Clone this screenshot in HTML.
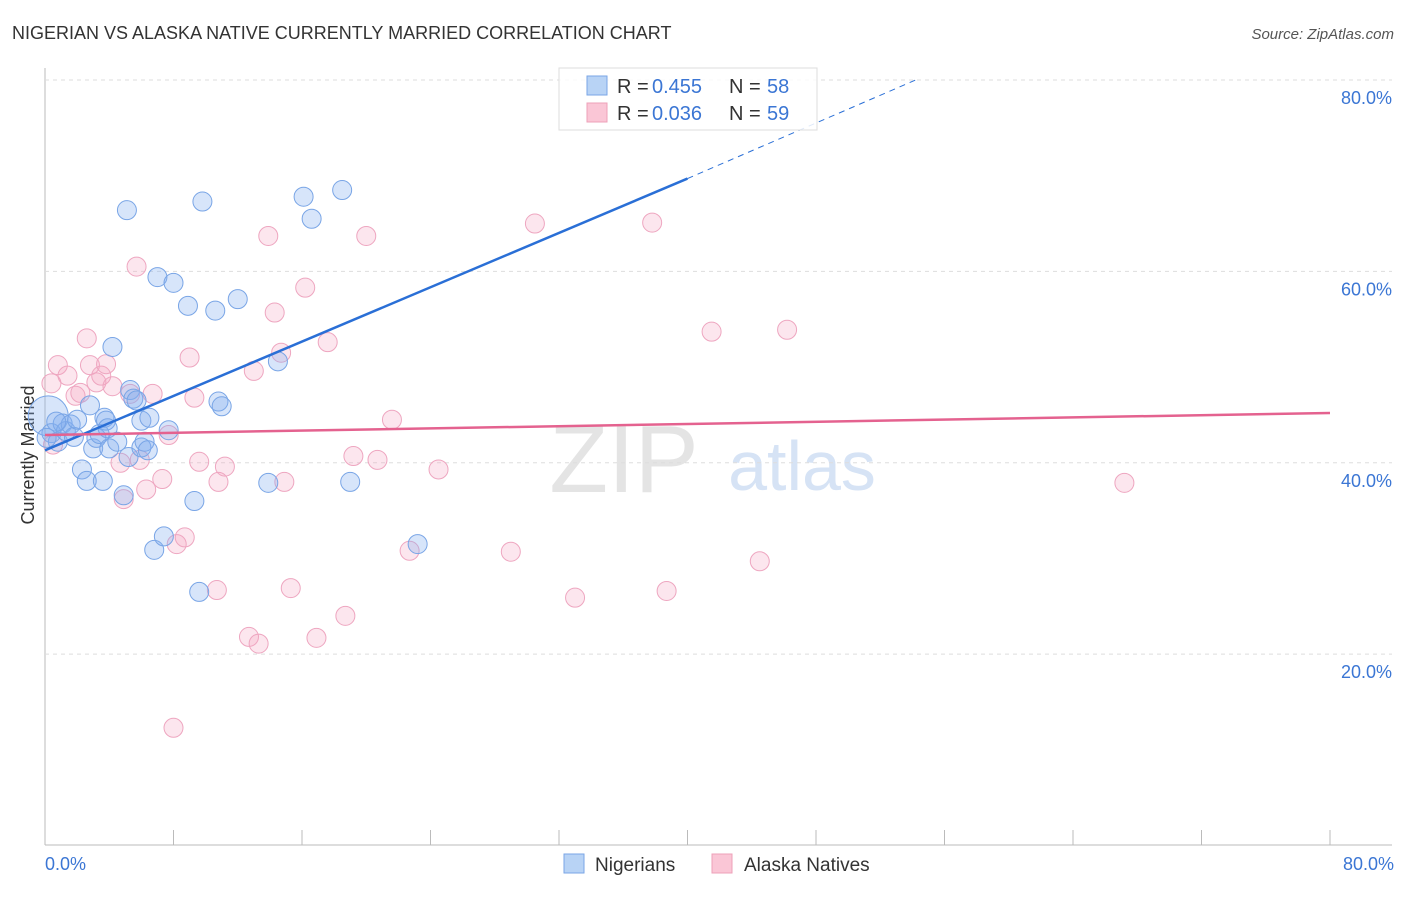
<!DOCTYPE html>
<html><head><meta charset="utf-8"><style>
body{margin:0;background:#fff;font-family:"Liberation Sans",sans-serif;}
svg text{font-family:"Liberation Sans",sans-serif;}
</style></head><body>
<svg id="c" width="1406" height="892" xmlns="http://www.w3.org/2000/svg">
<text x="12" y="39" font-size="18" fill="#333">NIGERIAN VS ALASKA NATIVE CURRENTLY MARRIED CORRELATION CHART</text>
<text x="1394" y="39" font-size="15" fill="#555" font-style="italic" text-anchor="end">Source: ZipAtlas.com</text>
<text x="624" y="492" font-size="96" fill="#e4e4e4" font-family="Liberation Serif" text-anchor="middle">ZIP</text>
<text x="802" y="490" font-size="70" fill="#d6e3f5" text-anchor="middle">atlas</text>
<text transform="translate(34,455) rotate(-90)" font-size="18" fill="#333" text-anchor="middle">Currently Married</text>
<g id="grid"></g><g id="pts"></g><g id="lines"></g>
<g>
<rect x="559" y="68" width="258" height="62" fill="#fff" fill-opacity="0.85" stroke="#ddd"/>
<rect x="587" y="76" width="20" height="19" fill="#b8d3f5" stroke="#7aa6e6"/>
<rect x="587" y="103" width="20" height="19" fill="#fac6d6" stroke="#eea0b8"/>
<text x="617" y="93" font-size="20" fill="#333">R =</text><text x="652" y="93" font-size="20" fill="#3b76d4">0.455</text>
<text x="729" y="93" font-size="20" fill="#333">N =</text><text x="767" y="93" font-size="20" fill="#3b76d4">58</text>
<text x="617" y="120" font-size="20" fill="#333">R =</text><text x="652" y="120" font-size="20" fill="#3b76d4">0.036</text>
<text x="729" y="120" font-size="20" fill="#333">N =</text><text x="767" y="120" font-size="20" fill="#3b76d4">59</text>
</g>
<g>
<rect x="564" y="854" width="20" height="19" fill="#b8d3f5" stroke="#7aa6e6"/>
<text x="595" y="871" font-size="19" fill="#333">Nigerians</text>
<rect x="712" y="854" width="20" height="19" fill="#fac6d6" stroke="#eea0b8"/>
<text x="744" y="871" font-size="19" fill="#333">Alaska Natives</text>
</g>
</svg>
<script>
const xTicks=[0,8,16,24,32,40,48,56,64,72,80];
const yTicks=[20,40,60,80];
const blueX=[0.2,0.4,0.8,1.1,1.3,1.6,1.8,2.0,2.3,2.6,2.8,3.0,3.2,3.4,3.6,3.7,3.8,3.9,4.0,4.2,4.9,5.1,5.3,5.2,5.5,5.7,6.0,6.0,6.2,6.4,6.5,6.8,7.0,7.4,7.7,8.0,8.9,9.3,9.6,9.8,10.6,10.8,11.0,12.0,13.9,14.5,16.1,16.6,18.5,19.0,23.2,0.7,4.5,0.1];
const blueY=[44.9,43.1,42.2,44.1,43.3,44.0,42.7,44.5,39.3,38.1,46.0,41.5,42.6,43.0,38.1,44.7,44.4,43.6,41.5,52.1,36.6,66.4,47.6,40.6,46.7,46.5,41.6,44.4,42.2,41.3,44.7,30.9,59.4,32.3,43.4,58.8,56.4,36.0,26.5,67.3,55.9,46.4,45.9,57.1,37.9,50.6,67.8,65.5,68.5,38.0,31.5,44.3,42.2,42.6];
const pinkX=[0.4,0.8,0.5,1.4,1.9,2.2,2.6,2.8,3.2,3.5,3.8,4.2,4.7,4.9,5.3,5.7,5.9,6.3,6.7,7.3,7.7,8.2,8.7,9.0,9.3,9.6,10.7,10.8,11.2,12.7,13.0,13.3,13.9,14.3,14.7,14.9,15.3,16.2,16.9,17.6,18.7,19.2,20.0,20.7,21.6,22.7,24.5,29.0,30.5,33.0,37.8,38.7,41.5,44.5,46.2,67.2,8.0];
const pinkY=[48.3,50.2,41.9,49.1,47.0,47.3,53.0,50.2,48.4,49.1,50.3,48.0,40.0,36.2,47.2,60.5,40.3,37.2,47.2,38.3,42.9,31.5,32.2,51.0,46.8,40.1,26.7,38.0,39.6,21.8,49.6,21.1,63.7,55.7,51.5,38.0,26.9,58.3,21.7,52.6,24.0,40.7,63.7,40.3,44.5,30.8,39.3,30.7,65.0,25.9,65.1,26.6,53.7,29.7,53.9,37.9,12.3];
const X0=45,X1=1330,Y0=845.5,Y80=80;
const sx=v=>X0+(X1-X0)*v/80, sy=v=>Y0+(Y80-Y0)*v/80;
const NS="http://www.w3.org/2000/svg";
function mk(t,a,p){const e=document.createElementNS(NS,t);for(const k in a)e.setAttribute(k,a[k]);p.appendChild(e);return e;}
const g=document.getElementById('grid');
mk('line',{x1:X0,y1:68,x2:X0,y2:845,stroke:'#bbb'},g);
mk('line',{x1:X0,y1:845,x2:1392,y2:845,stroke:'#bbb'},g);
yTicks.forEach(v=>{
 const l=mk('line',{x1:X0,y1:sy(v),x2:1392,y2:sy(v),stroke:'#ddd','stroke-dasharray':'4,4'},g);
 
 
 const t=mk('text',{x:1392,y:sy(v)+24,'font-size':18,fill:'#3b76d4','text-anchor':'end'},g);
 t.textContent=v.toFixed(1)+'%';
 
 
});
xTicks.forEach(v=>{
 const l=mk('line',{x1:sx(v),y1:830,x2:sx(v),y2:845,stroke:'#bbb'},g);
 
 
});
[[0,'start',45],[80,'end',1394]].forEach(([v,a,x])=>{
 const t=mk('text',{x:x,y:870,'font-size':18,fill:'#3b76d4','text-anchor':a},g);
 t.textContent=v.toFixed(1)+'%';
 
 
});
const p=document.getElementById('pts');
pinkX.forEach((x,i)=>{
 const c=mk('circle',{cx:sx(x),cy:sy(pinkY[i]),r:9.5,fill:'rgba(245,165,195,0.28)',stroke:'#eea6c0','stroke-width':1},p);
 
 
});
blueX.forEach((x,i)=>{
 const c=mk('circle',{cx:sx(x),cy:sy(blueY[i]),r:i===0?20:9.5,fill:'rgba(130,175,240,0.32)',stroke:'#79a5e6','stroke-width':1},p);
 
 
});
const L=document.getElementById('lines');
const b=mk('line',{x1:sx(0),y1:sy(41.3),x2:sx(40),y2:sy(69.7),stroke:'#2a6fd6','stroke-width':2.5},L);


const bd=mk('line',{x1:sx(40),y1:sy(69.7),x2:sx(54.2),y2:sy(80),stroke:'#2a6fd6','stroke-width':1,'stroke-dasharray':'6,5'},L);


const pl=mk('line',{x1:sx(0),y1:sy(42.9),x2:sx(80),y2:sy(45.2),stroke:'#e4628f','stroke-width':2.5},L);


</script>
</body></html>
